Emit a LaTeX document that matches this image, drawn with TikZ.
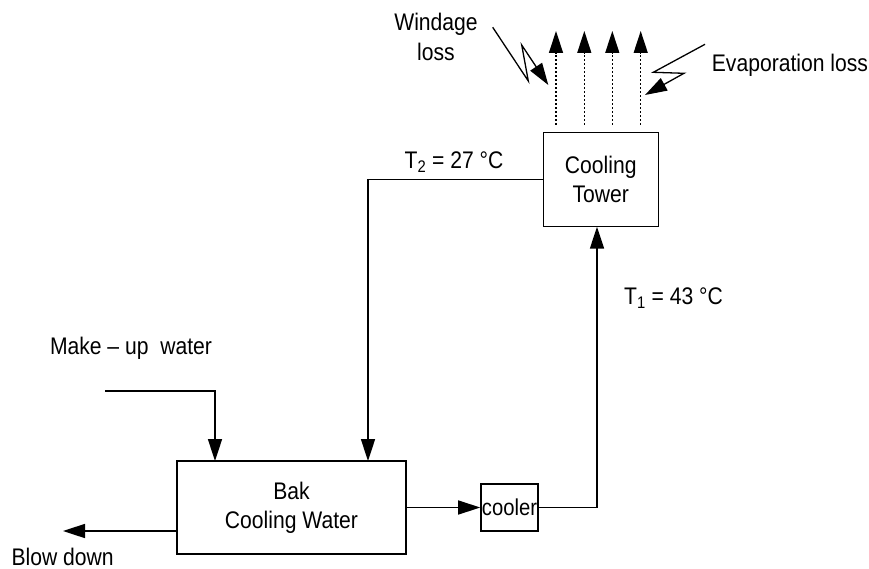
\documentclass[tikz,border=0pt]{standalone}
\usepackage{fontspec}
\setmainfont{Liberation Sans}[FakeStretch=0.88]
\usetikzlibrary{arrows.meta}
\begin{document}
\begin{tikzpicture}[x=1pt,y=-1pt,
  every node/.style={font=\fontsize{24}{29.3}\selectfont},
  box/.style={draw,line width=1.6pt,align=center,inner sep=0pt},
  flow/.style={line width=1.6pt,-{Triangle[length=22pt,width=14pt]}},
  vapour/.style={line width=1.3pt,dash pattern=on 2pt off 2pt,-{Triangle[length=22pt,width=14pt]}},
  bolt/.style={line width=1.3pt,-{Triangle[length=22pt,width=14pt]}},
  lbl/.style={inner sep=0pt,align=center}]
\useasboundingbox (0,0) rectangle (869,569);
% boxes
\node[box,minimum width=115pt,minimum height=94pt] (tower) at (600.8,179.7) {Cooling\\Tower};
\node[box,minimum width=229pt,minimum height=93pt] (bak) at (291.5,507.5) {Bak\\Cooling Water};
\node[box,minimum width=57pt,minimum height=47pt,font=\fontsize{23}{29}\selectfont] (cooler) at (509.5,507.5) {cooler};
% coordinates
\coordinate (mu) at (105,391);
\coordinate (bakin1) at (215,461);
\coordinate (bakin2) at (368,461);
\coordinate (towin) at (597,226.7);
\coordinate (bdstart) at (177,531);
\coordinate (bdend) at (63,531);
% connectors
\draw[flow] (mu) -| (bakin1);
\draw[flow] (tower.west) -| (bakin2);
\draw[flow] (bak.east) -- (cooler.west);
\draw[flow] (cooler.east) -| (towin);
\draw[flow] (bdstart) -- (bdend);
% vapour arrows
\foreach \i/\x in {1/556,2/584.3,3/612.3,4/640.7}{
  \coordinate (vs\i) at (\x,125);
  \coordinate (ve\i) at (\x,31);
  \draw[vapour] (vs\i) -- (ve\i);
}
% bolts
\coordinate (w0) at (492.7,27.3);
\coordinate (w1) at (528.3,81);
\coordinate (w2) at (521.7,45);
\coordinate (w3) at (548.3,85);
\draw[bolt] (w0) -- (w1) -- (w2) -- (w3);
\coordinate (e0) at (705,44.3);
\coordinate (e1) at (653.3,72.3);
\coordinate (e2) at (684,73.3);
\coordinate (e3) at (645,95);
\draw[bolt] (e0) -- (e1) -- (e2) -- (e3);
% labels
\node[lbl] (windage) at (436,37) {Windage\\loss};
\node[lbl,anchor=west] (evap) at (711.7,65) {Evaporation loss};
\node[lbl] (t2) at (454,162) {T\textsubscript{2} = 27 °C};
\node[lbl] (t1) at (673.5,298) {T\textsubscript{1} = 43 °C};
\node[lbl] (makeup) at (131,348) {Make – up\ \ water};
\node[lbl] (blow) at (62.7,557) {Blow down};
\end{tikzpicture}
\end{document}
